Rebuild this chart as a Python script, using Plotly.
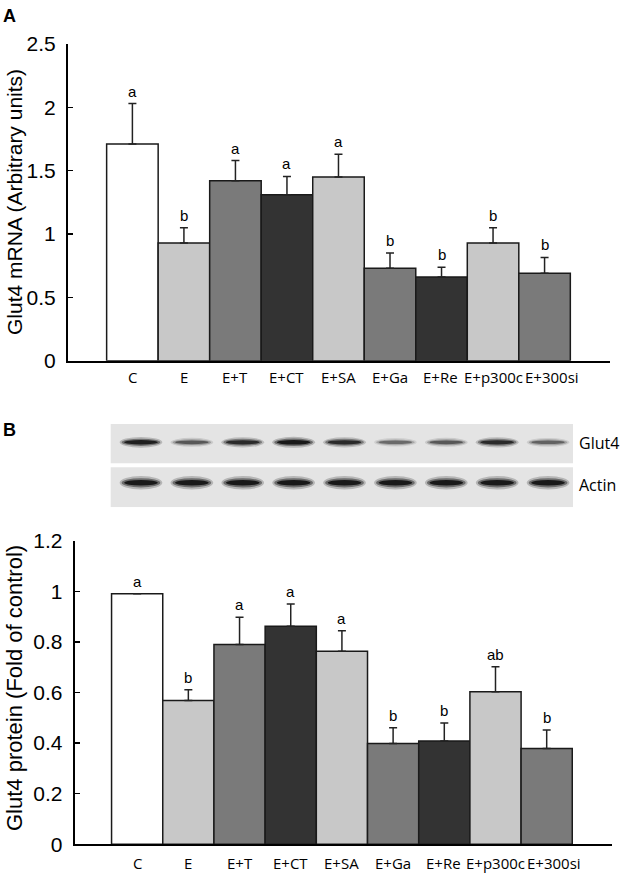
import plotly.graph_objects as go

# ---------------- data ----------------
categories = ["C", "E", "E+T", "E+CT", "E+SA", "E+Ga", "E+Re", "E+p300c", "E+300si"]

mrna_mean = [1.71, 0.93, 1.42, 1.31, 1.45, 0.73, 0.66, 0.93, 0.69]
mrna_err = [0.32, 0.12, 0.16, 0.145, 0.18, 0.12, 0.077, 0.12, 0.125]
mrna_letters = ["a", "b", "a", "a", "a", "b", "b", "b", "b"]

protein_mean = [0.99, 0.568, 0.79, 0.862, 0.763, 0.398, 0.408, 0.603, 0.379]
protein_err = [0.0, 0.043, 0.107, 0.088, 0.081, 0.063, 0.071, 0.099, 0.073]
protein_letters = ["a", "b", "a", "a", "a", "b", "b", "ab", "b"]

# relative band intensities
glut4_band = [0.95, 0.55, 0.85, 1.0, 0.85, 0.45, 0.55, 0.85, 0.5]
actin_band = [1.0, 1.0, 1.0, 1.0, 1.0, 1.0, 1.0, 1.0, 1.0]
blot_rows = ["Glut4", "Actin"]

mrna_ticks = [0, 0.5, 1, 1.5, 2, 2.5]
protein_ticks = [0, 0.2, 0.4, 0.6, 0.8, 1, 1.2]

# ---------------- styling ----------------
W, H = 622, 875
LIGHT, MID, DARK = "#c8c8c8", "#7a7a7a", "#333333"
bar_colors = ["#ffffff", LIGHT, MID, DARK, LIGHT, MID, DARK, LIGHT, MID]
AX_FONT = "Liberation Sans, Arial, sans-serif"
CAT_FONT = "Open Sans, sans-serif"
# horizontal nudges of the category labels (they are typed as a text line in the original)
label_xshift = [0, 0, 0, 0, 0, 0, -1, 0, 7]


def px_x(p):
    return p / W


def px_y(p):
    return 1 - p / H


fig = go.Figure()

err_style = dict(type="data", symmetric=False, color="#222222", thickness=1.5, width=4)

fig.add_trace(go.Bar(
    x=categories, y=mrna_mean, width=1.0,
    marker=dict(color=bar_colors, line=dict(color="#1a1a1a", width=1.5)),
    error_y=dict(array=mrna_err, arrayminus=[0] * len(mrna_err), **err_style),
    xaxis="x", yaxis="y", hoverinfo="skip",
))
fig.add_trace(go.Bar(
    x=categories, y=protein_mean, width=1.0,
    marker=dict(color=bar_colors, line=dict(color="#1a1a1a", width=1.5)),
    error_y=dict(array=protein_err, arrayminus=[0] * len(protein_err), **err_style),
    xaxis="x2", yaxis="y2", hoverinfo="skip",
))

annotations = []
for c, m, e, l in zip(categories, mrna_mean, mrna_err, mrna_letters):
    annotations.append(dict(x=c, y=m + e, xref="x", yref="y", text=l, showarrow=False,
                            yanchor="bottom", yshift=2,
                            font=dict(family=AX_FONT, size=15, color="black")))
for c, m, e, l in zip(categories, protein_mean, protein_err, protein_letters):
    annotations.append(dict(x=c, y=m + e, xref="x2", yref="y2", text=l, showarrow=False,
                            yanchor="bottom", yshift=2,
                            font=dict(family=AX_FONT, size=15, color="black")))

# category labels under both charts
for xr, yr, ys in [("x", "y", -16), ("x2", "y2", -19)]:
    for c, dx in zip(categories, label_xshift):
        annotations.append(dict(x=c, y=0, xref=xr, yref=yr, text=c, showarrow=False,
                                xanchor="center", yanchor="middle", xshift=dx, yshift=ys,
                                font=dict(family=CAT_FONT, size=15, color="black")))

# axis titles
annotations.append(dict(x=px_x(14), y=px_y(202), xref="paper", yref="paper",
                        text="Glut4 mRNA (Arbitrary units)", textangle=-90, showarrow=False,
                        xanchor="center", yanchor="middle",
                        font=dict(family=AX_FONT, size=21, color="black")))
annotations.append(dict(x=px_x(14), y=px_y(688), xref="paper", yref="paper",
                        text="Glut4 protein (Fold of control)", textangle=-90, showarrow=False,
                        xanchor="center", yanchor="middle",
                        font=dict(family=AX_FONT, size=22, color="black")))
# panel letters
annotations.append(dict(x=px_x(1), y=px_y(16), xref="paper", yref="paper", text="<b>A</b>",
                        showarrow=False, xanchor="left", yanchor="middle",
                        font=dict(family=AX_FONT, size=18, color="black")))
annotations.append(dict(x=px_x(1), y=px_y(430), xref="paper", yref="paper", text="<b>B</b>",
                        showarrow=False, xanchor="left", yanchor="middle",
                        font=dict(family=AX_FONT, size=18, color="black")))
# blot row labels
for name, yc in zip(blot_rows, [443, 485]):
    annotations.append(dict(x=px_x(578), y=px_y(yc), xref="paper", yref="paper", text=name,
                            showarrow=False, xanchor="left", yanchor="middle", borderpad=0,
                            font=dict(family=CAT_FONT, size=16, color="black")))

# ---------------- blot (drawn with shapes on its own axes) ----------------
shapes = []
row_panels = {"Glut4": (44.0, 83.3, 65.0, 3.2), "Actin": (0.0, 40.0, 24.5, 4.0)}
for row, bands in zip(blot_rows, [glut4_band, actin_band]):
    y0, y1, yc, hh = row_panels[row]
    shapes.append(dict(type="rect", xref="x3 domain", yref="y3", x0=0, x1=1, y0=y0, y1=y1,
                       fillcolor="#e4e4e4", line=dict(width=0), layer="below"))
    for i, inten in enumerate(bands):
        for hw, hs, op in [(0.42, 1.7, 0.22), (0.38, 1.15, 0.45), (0.33, 0.7, 0.9)]:
            shapes.append(dict(type="circle", xref="x3", yref="y3",
                               x0=i - hw, x1=i + hw,
                               y0=yc - hh * hs * (0.6 + 0.4 * inten),
                               y1=yc + hh * hs * (0.6 + 0.4 * inten),
                               fillcolor="#111111", opacity=op * inten, line=dict(width=0)))

# invisible trace to anchor blot axes
fig.add_trace(go.Scatter(x=[0], y=[0], xaxis="x3", yaxis="y3", mode="markers",
                         marker=dict(opacity=0), hoverinfo="skip"))

yaxis_common = dict(showline=True, linecolor="black", linewidth=2, ticks="inside",
                    ticklen=5, tickwidth=1.5, tickcolor="black", showgrid=False, zeroline=False,
                    automargin=False,
                    tickfont=dict(family=AX_FONT, size=21, color="black"), ticklabelstandoff=6)
xaxis_common = dict(type="category", showline=True, linecolor="black", linewidth=2, ticks="",
                    showgrid=False, zeroline=False, showticklabels=False, automargin=False)

fig.update_layout(
    width=W, height=H, margin=dict(l=0, r=0, t=0, b=0, pad=0, autoexpand=False),
    template="none",
    paper_bgcolor="white", plot_bgcolor="white", showlegend=False, barmode="overlay",
    xaxis=dict(domain=[px_x(68), px_x(610)], range=[-1.25, 9.27], anchor="y", **xaxis_common),
    yaxis=dict(domain=[px_y(360.7), px_y(44)], range=[0, 2.5], anchor="x",
               tickvals=mrna_ticks, **yaxis_common),
    xaxis2=dict(domain=[px_x(74.7), px_x(611.7)], range=[-1.22, 9.27], anchor="y2",
                **xaxis_common),
    yaxis2=dict(domain=[px_y(844.3), px_y(540.7)], range=[0, 1.2], anchor="x2",
                tickvals=protein_ticks, **yaxis_common),
    xaxis3=dict(domain=[px_x(110.7), px_x(573)], range=[-0.595, 8.49], anchor="y3",
                visible=False, automargin=False),
    yaxis3=dict(domain=[px_y(507.3), px_y(424)], range=[0, 83.3], anchor="x3",
                visible=False, automargin=False),
    annotations=annotations,
    shapes=shapes,
)

# the page's default body margin would shift the figure; remove it
fig.write_html("out.html", config={"displayModeBar": False, "staticPlot": True},
               post_script="document.body.style.margin='0px';")
